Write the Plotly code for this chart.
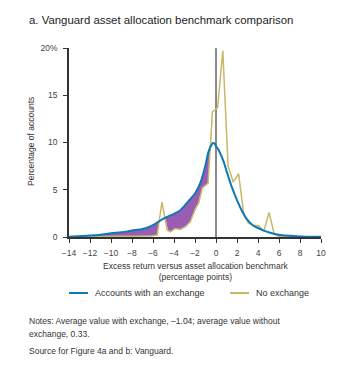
import numpy as np
import plotly.graph_objects as go

# ---- data ----
exch_x = [-14, -12, -11, -10, -9, -8, -7, -6.5, -6, -5.5, -5, -4.5, -4, -3.5, -3, -2.5, -2,
          -1.5, -1.0, -0.75, -0.5, -0.3, -0.1, 0, 0.25, 0.5, 0.75, 1.0, 1.5, 2.0, 2.5, 3.0,
          3.5, 4.0, 4.5, 5.0, 5.5, 6.0, 7.0, 8.0, 10.0]
exch_y = [0.02, 0.15, 0.25, 0.4, 0.5, 0.68, 0.85, 1.0, 1.25, 1.6, 1.95, 2.2, 2.45, 2.75, 3.3, 3.95, 4.6,
          5.7, 7.6, 8.9, 9.6, 9.95, 9.85, 9.6, 9.2, 8.6, 7.9, 7.0, 5.3, 3.9, 2.7, 1.8,
          1.25, 0.95, 0.7, 0.5, 0.35, 0.25, 0.12, 0.06, 0.02]

noex_x = [-14, -6.2, -5.6, -5.15, -4.65, -4.35, -3.9, -3.4, -2.9, -2.45, -2.0, -1.65, -1.3, -0.75,
          -0.35, 0.15, 0.65, 1.15, 1.65, 2.15, 2.65, 3.1, 3.6, 4.05, 4.55, 5.05, 5.55, 6.0, 8.0, 10.0]
noex_y = [0.03, 0.1, 0.2, 3.7, 0.75, 0.55, 0.9, 0.8, 1.1, 1.6, 2.9, 3.6, 5.2, 5.7,
          13.2, 13.7, 19.7, 7.5, 5.8, 6.7, 2.35, 1.45, 1.25, 1.2, 0.6, 2.6, 0.3, 0.05, 0.02, 0.0]

x_ticks = [-14, -12, -10, -8, -6, -4, -2, 0, 2, 4, 6, 8, 10]
y_ticks = [0, 5, 10, 15, 20]
y_tick_labels = ["0", "5", "10", "15", "20%"]

series_names = ["Accounts with an exchange", "No exchange"]
title_text = "a. Vanguard asset allocation benchmark comparison"
x_title = "Excess return versus asset allocation benchmark<br>(percentage points)"
y_title = "Percentage of accounts"
notes_1 = "Notes: Average value with exchange, \u20131.04; average value without"
notes_2 = "exchange, 0.33."
source = "Source for Figure 4a and b: Vanguard."

# ---- styles ----
BLUE = "#0f78b8"
GOLD = "#c8b868"
PURPLE = "#9a5db3"
TXT = "#333333"
SANS = "Liberation Sans, Arial, sans-serif"
NARROW = "Liberation Sans Narrow, Arial Narrow, sans-serif"

W, H = 341, 368
L, R, T, B = 69, 20, 48, 131
PW, PH = W - L - R, H - T - B


def px(p):
    return (p - L) / PW


def py(p):
    return (H - B - p) / PH


# fill region where exchange curve is above no-exchange curve
xf = np.linspace(-14, 10, 2401)
bf = np.interp(xf, exch_x, exch_y)
yf = np.interp(xf, noex_x, noex_y)
upper = np.maximum(bf, yf)

fig = go.Figure()
fig.add_trace(go.Scatter(x=xf, y=yf, mode="lines", line=dict(width=0), showlegend=False,
                         hoverinfo="skip"))
fig.add_trace(go.Scatter(x=xf, y=upper, mode="lines", line=dict(width=0), fill="tonexty",
                         fillcolor=PURPLE, showlegend=False, hoverinfo="skip"))
fig.add_trace(go.Scatter(x=noex_x, y=noex_y, mode="lines", name=series_names[1],
                         line=dict(color=GOLD, width=1.5), showlegend=False))
fig.add_trace(go.Scatter(x=exch_x, y=exch_y, mode="lines", name=series_names[0],
                         line=dict(color=BLUE, width=2, shape="spline", smoothing=0.6),
                         showlegend=False))

fig.add_shape(type="line", x0=0, x1=0, y0=0, y1=20, xref="x", yref="y",
              line=dict(color="#8a8a8a", width=2), layer="below")

annotations = [
    dict(text=title_text, x=px(27), y=py(20), xanchor="left", yanchor="middle",
         font=dict(family=SANS, size=11.4, color="#222")),
    dict(text=x_title, x=px(195), y=py(271), xanchor="center", yanchor="middle",
         font=dict(family=SANS, size=8.5, color=TXT)),
    dict(text=y_title, x=px(31), y=py(142), xanchor="center", yanchor="middle", textangle=-90,
         font=dict(family=SANS, size=8.5, color=TXT)),
    dict(text=series_names[0], x=px(93), y=py(293), xanchor="left", yanchor="middle",
         font=dict(family=SANS, size=9, color=TXT)),
    dict(text=series_names[1], x=px(254), y=py(293), xanchor="left", yanchor="middle",
         font=dict(family=SANS, size=9, color=TXT)),
    dict(text=notes_1, x=px(27), y=py(321), xanchor="left", yanchor="middle",
         font=dict(family=NARROW, size=8.5, color=TXT)),
    dict(text=notes_2, x=px(27), y=py(334), xanchor="left", yanchor="middle",
         font=dict(family=NARROW, size=8.5, color=TXT)),
    dict(text=source, x=px(27), y=py(351), xanchor="left", yanchor="middle",
         font=dict(family=NARROW, size=8.5, color=TXT)),
]
for a in annotations:
    a.update(xref="paper", yref="paper", showarrow=False)

shapes_legend = [
    dict(type="line", xref="paper", yref="paper", x0=px(69), x1=px(88), y0=py(293), y1=py(293),
         line=dict(color=BLUE, width=2)),
    dict(type="line", xref="paper", yref="paper", x0=px(230), x1=px(249), y0=py(293), y1=py(293),
         line=dict(color=GOLD, width=2)),
]
for s in shapes_legend:
    fig.add_shape(**s)

fig.update_layout(
    width=W, height=H,
    margin=dict(l=L, r=R, t=T, b=B, pad=0),
    paper_bgcolor="white", plot_bgcolor="white",
    annotations=annotations,
    showlegend=False,
    xaxis=dict(range=[-14, 10], tickvals=x_ticks, showgrid=False, zeroline=False,
               showline=True, linecolor="#333", linewidth=1.5, ticks="outside", ticklen=4,
               tickcolor="#333", tickwidth=1, ticklabelstandoff=3,
               tickfont=dict(family=SANS, size=8.5, color="#444")),
    yaxis=dict(range=[0, 20], tickvals=y_ticks, ticktext=y_tick_labels, showgrid=False,
               zeroline=False, showline=True, linecolor="#333", linewidth=1.5,
               ticks="outside", ticklen=4, tickcolor="#333", tickwidth=1, ticklabelstandoff=4,
               tickfont=dict(family=SANS, size=8.5, color="#444")),
)

fig.write_html("out.html")
